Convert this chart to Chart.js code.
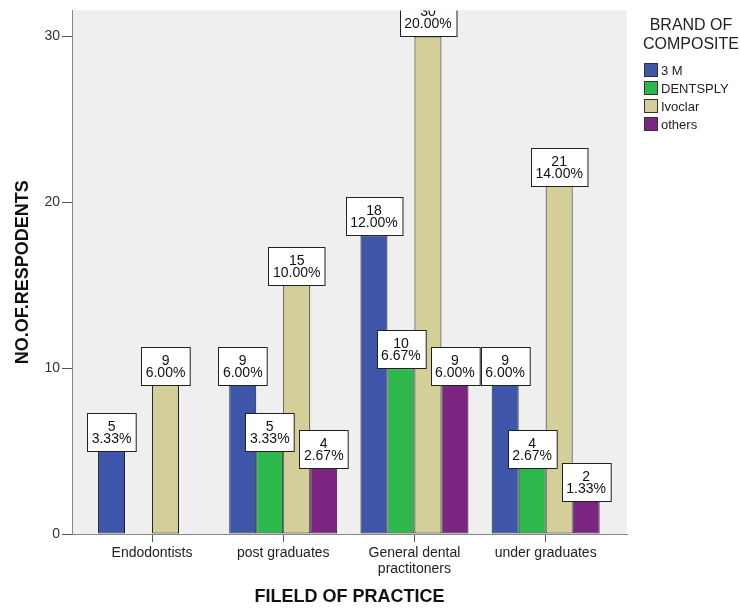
<!DOCTYPE html>
<html>
<head>
<meta charset="utf-8">
<script src="https://cdn.jsdelivr.net/npm/chart.js@4/dist/chart.umd.min.js"></script>
<style>
  html, body { margin: 0; padding: 0; background: #fff; }
  #wrap { position: relative; width: 740px; height: 610px; font-family: "Liberation Sans", Arial, sans-serif; }
  #legend { position: absolute; left: 636px; top: 0; width: 104px; color: #222; }
  #legend .title { position: absolute; left: 0; top: 15px; width: 110px; text-align: center; font-size: 16px; line-height: 19px; }
  #legend .item { position: absolute; left: 8px; height: 18px; font-size: 13px; line-height: 18px; white-space: nowrap; }
  #legend .swatch { display: inline-block; width: 12px; height: 12px; border: 1px solid #333; vertical-align: -2px; margin-right: 3px; }
</style>
</head>
<body>
<div id="wrap">
  <canvas id="barChart" width="740" height="610"></canvas>
  <div id="legend"></div>
</div>
<script>
const categories = ['Endodontists', 'post graduates', ['General dental', 'practitoners'], 'under graduates'];
const brands = ['3 M', 'DENTSPLY', 'Ivoclar', 'others'];
const threeM = [5, 9, 18, 9];
const dentsply = [null, 5, 10, 4];
const ivoclar = [9, 15, 30, 21];
const others = [null, 4, 9, 2];
const yTicks = [0, 10, 20, 30];
const totalRespondents = 150;

const brandColors = ['#3d56aa', '#2cb84b', '#d4cf98', '#7b2580'];
const seriesValues = [threeM, dentsply, ivoclar, others];

// legend (html)
const legendEl = document.getElementById('legend');
let html = '<div class="title">BRAND OF<br>COMPOSITE</div>';
brands.forEach(function(b, i) {
    html += '<div class="item" style="top:' + (62 + i * 18) + 'px"><span class="swatch" style="background:' +
        brandColors[i] + '"></span>' + b + '</div>';
});
legendEl.innerHTML = html;

const plotBg = {
    id: 'plotBg',
    beforeDraw(chart) {
        const a = chart.chartArea, ctx = chart.ctx;
        ctx.save();
        ctx.fillStyle = '#efefef';
        ctx.fillRect(a.left, a.top, a.right - a.left, a.bottom - a.top);
        ctx.restore();
    }
};

const boxLabels = {
    id: 'boxLabels',
    afterDatasetsDraw(chart) {
        const ctx = chart.ctx, a = chart.chartArea;
        ctx.save();
        ctx.beginPath();
        ctx.rect(a.left, a.top, a.right - a.left, a.bottom - a.top);
        ctx.clip();
        ctx.font = '14px "Liberation Sans", Arial, sans-serif';
        ctx.textAlign = 'center';
        ctx.textBaseline = 'middle';
        chart.data.datasets.forEach(function(ds, di) {
            const meta = chart.getDatasetMeta(di);
            meta.data.forEach(function(bar, i) {
                const v = ds.data[i].y;
                if (v === null) return;
                const l1 = String(v);
                const l2 = (v / totalRespondents * 100).toFixed(2) + '%';
                const w = Math.max(ctx.measureText(l1).width, ctx.measureText(l2).width) + 9;
                const h = 38;
                const x0 = Math.round(bar.x - w / 2) + 0.5;
                const y0 = Math.round(bar.y - h) + 0.5;
                ctx.fillStyle = '#fff';
                ctx.fillRect(x0, y0, w, h);
                ctx.strokeStyle = '#222';
                ctx.lineWidth = 1;
                ctx.strokeRect(x0, y0, w, h);
                ctx.fillStyle = '#111';
                ctx.fillText(l1, bar.x, y0 + 14);
                ctx.fillText(l2, bar.x, y0 + 26);
            });
        });
        ctx.restore();
    }
};

const ctx = document.getElementById('barChart').getContext('2d');
new Chart(ctx, {
    type: 'bar',
    data: {
        datasets: brands.map(function(b, i) {
            return {
                label: b,
                data: seriesValues[i].map(function(v, j) { return { x: j, y: v }; }),
                backgroundColor: brandColors[i],
                borderColor: '#1a1a1a',
                borderWidth: 1,
                borderSkipped: false,
                barPercentage: 1,
                categoryPercentage: 0.823
            };
        })
    },
    options: {
        responsive: false,
        animation: false,
        layout: { padding: { top: 10, right: 113, left: 0, bottom: 0 } },
        plugins: { legend: { display: false }, tooltip: { enabled: false } },
        scales: {
            x: {
                type: 'linear',
                offset: false,
                min: -0.61,
                max: 3.62,
                afterFit(scale) { scale.height = 76; },
                afterBuildTicks(scale) {
                    scale.ticks = categories.map(function(c, i) { return { value: i }; });
                },
                ticks: {
                    callback: function(v) { return categories[v]; },
                    font: { family: '"Liberation Sans", Arial, sans-serif', size: 14, lineHeight: 1.08 },
                    color: '#222',
                    padding: 4,
                    maxRotation: 0,
                    autoSkip: false
                },
                grid: { offset: false, drawOnChartArea: false, tickLength: 8, color: '#555', tickColor: '#555' },
                border: { color: '#888', width: 1 },
                title: {
                    display: true,
                    text: 'FILELD OF PRACTICE',
                    font: { family: '"Liberation Sans", Arial, sans-serif', size: 18, weight: 'bold' },
                    color: '#111',
                    padding: { top: 0, bottom: 2 }
                }
            },
            y: {
                min: 0,
                max: 31.57,
                afterFit(scale) { scale.width = 72; },
                afterBuildTicks(scale) {
                    scale.ticks = yTicks.map(function(t) { return { value: t }; });
                },
                ticks: {
                    font: { family: '"Liberation Sans", Arial, sans-serif', size: 14 },
                    color: '#333',
                    padding: 2
                },
                grid: { drawOnChartArea: false, tickLength: 10, color: '#555', tickColor: '#555' },
                border: { color: '#888', width: 1 },
                title: {
                    display: true,
                    text: 'NO.OF.RESPODENTS',
                    font: { family: '"Liberation Sans", Arial, sans-serif', size: 18, weight: 'bold' },
                    color: '#111',
                    padding: { top: 12, bottom: 0 }
                }
            }
        }
    },
    plugins: [plotBg, boxLabels]
});
</script>
</body>
</html>
